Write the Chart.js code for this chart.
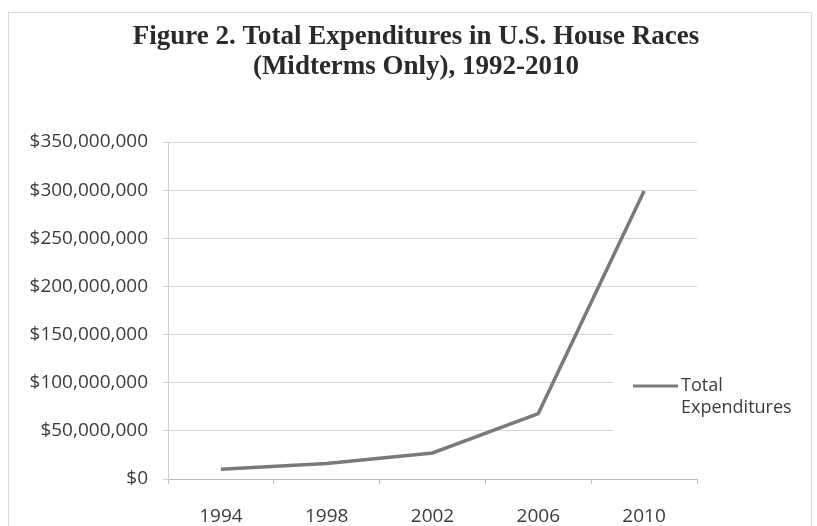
<!DOCTYPE html>
<html>
<head>
<meta charset="utf-8">
<script src="https://cdn.jsdelivr.net/npm/chart.js@4/dist/chart.umd.min.js"></script>
<style>
  html, body { margin: 0; padding: 0; background: #fff; }
  #wrap { position: relative; width: 817px; height: 526px; }
  #frame { position: absolute; left: 8px; top: 12px; width: 802px; height: 530px; border: 1px solid #dcdcdc; }
  canvas { position: absolute; left: 0; top: 0; }
</style>
</head>
<body>
<div id="wrap">
  <div id="frame"></div>
  <canvas id="c" width="817" height="526"></canvas>
</div>
<script>
const titleLines = ["Figure 2. Total Expenditures in U.S. House Races", "(Midterms Only), 1992-2010"];
const years = ["1994", "1998", "2002", "2006", "2010"];
const seriesName = "Total Expenditures";
const totalExpenditures = [10000000, 16000000, 27000000, 68000000, 299000000];
const yMax = 350000000;
const yStep = 50000000;

const textColor = "#3c3c3c";
const sansFont = "'Open Sans', 'Liberation Sans', sans-serif";

const titlePlugin = {
  id: "figTitle",
  afterDraw(chart) {
    const ctx = chart.ctx;
    ctx.save();
    ctx.fillStyle = "#2a2a2a";
    ctx.font = "bold 27px 'Liberation Serif', 'Times New Roman', serif";
    ctx.textAlign = "center";
    ctx.textBaseline = "alphabetic";
    titleLines.forEach((t, i) => ctx.fillText(t, 416, 44 + i * 30));
    ctx.restore();
  }
};

const legendPlugin = {
  id: "sideLegend",
  afterDatasetsDraw(chart) {
    const ctx = chart.ctx;
    const area = chart.chartArea;
    const ds = chart.data.datasets[0];
    ctx.save();
    ctx.fillStyle = "#fff";
    ctx.fillRect(613, 318, area.right - 613 + 2, 128);
    const y = 386;
    ctx.strokeStyle = ds.borderColor;
    ctx.lineWidth = 3;
    ctx.beginPath();
    ctx.moveTo(633, y);
    ctx.lineTo(678, y);
    ctx.stroke();
    ctx.fillStyle = textColor;
    ctx.font = "18px " + sansFont;
    ctx.textBaseline = "middle";
    ctx.textAlign = "left";
    const words = ds.label.split(" ");
    words.forEach((w, i) => ctx.fillText(w, 681, y + i * 22));
    ctx.restore();
  }
};

new Chart(document.getElementById("c"), {
  type: "line",
  data: {
    labels: years,
    datasets: [{
      label: seriesName,
      data: totalExpenditures,
      borderColor: "#7a7a7a",
      borderWidth: 3.5,
      pointRadius: 0,
      tension: 0,
      fill: false
    }]
  },
  plugins: [titlePlugin, legendPlugin],
  options: {
    responsive: false,
    animation: false,
    layout: { padding: { left: 0, right: 120, top: 142, bottom: 0 } },
    plugins: {
      legend: { display: false },
      tooltip: { enabled: false },
      title: { display: false }
    },
    scales: {
      x: {
        offset: true,
        grid: { offset: true, drawOnChartArea: false, drawTicks: true, tickLength: 5, color: "#bdbdbd" },
        border: { color: "#bdbdbd" },
        ticks: { color: textColor, font: { family: sansFont, size: 19 }, padding: 21 },
        afterFit(scale) { scale.height = 47; }
      },
      y: {
        min: 0,
        max: yMax,
        ticks: {
          stepSize: yStep,
          color: textColor,
          font: { family: sansFont, size: 19 },
          padding: 15,
          callback: v => "$" + v.toLocaleString("en-US")
        },
        grid: { color: "#d4d4d4", tickLength: 5 },
        border: { color: "#cfcfcf" },
        afterFit(scale) { scale.width = 168; }
      }
    }
  }
});
</script>
</body>
</html>
